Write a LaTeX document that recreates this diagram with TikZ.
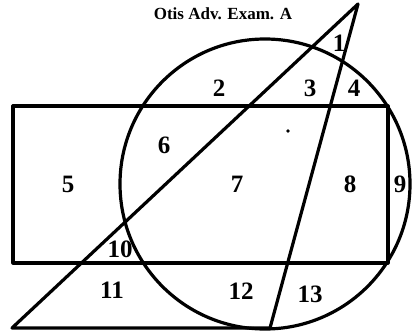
\documentclass[tikz,border=0pt]{standalone}
\usepackage{fontspec}
\setmainfont{Liberation Serif}
\begin{document}
\begin{tikzpicture}[x=1pt,y=-1pt,
  shape line/.style={line width=3.2pt, line join=round, line cap=round},
  lab/.style={font=\bfseries\fontsize{25}{28}\selectfont, inner sep=0pt, anchor=center},
  title/.style={font=\bfseries\fontsize{17}{19}\selectfont, inner sep=0pt}]
\useasboundingbox (0,0) rectangle (419,332);
% title
\node[title] (title) at (223,14) {Otis Adv. Exam. A};
% geometry
\coordinate (RTL) at (13,106);
\coordinate (RBR) at (388,263);
\coordinate (TA) at (358,4);
\coordinate (TB) at (12,328);
\coordinate (TC) at (270,328);
\coordinate (CC) at (265,184);
\draw[shape line] (RTL) rectangle (RBR);
\draw[shape line] (CC) circle[radius=145];
\draw[shape line] (TA) -- (TB) -- (TC) -- cycle;
% dot
\fill (288,131) circle[radius=1.8];
% labels
\node[lab] (l1) at (339,43) {1};
\node[lab] (l2) at (219,88) {2};
\node[lab] (l3) at (310,88) {3};
\node[lab] (l4) at (354,88) {4};
\node[lab] (l5) at (68,184) {5};
\node[lab] (l6) at (164,145) {6};
\node[lab] (l7) at (237,184) {7};
\node[lab] (l8) at (350,184) {8};
\node[lab] (l9) at (400,184) {9};
\node[lab] (l10) at (120,249) {10};
\node[lab] (l11) at (112,290) {11};
\node[lab] (l12) at (241,291) {12};
\node[lab] (l13) at (310,294) {13};
\end{tikzpicture}
\end{document}
